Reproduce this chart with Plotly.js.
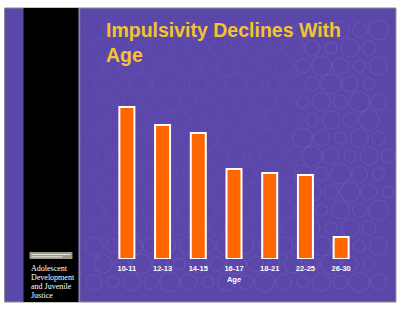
<!DOCTYPE html>
<html>
<head>
<meta charset="utf-8">
<script src="https://cdn.plot.ly/plotly-3.0.1.min.js"></script>
<style>html,body{margin:0;padding:0;background:#fff;}#chart{width:410px;height:318px;}</style>
</head>
<body>
<div id="chart"></div>
<script>
// Data
const ageGroups = ["10-11", "12-13", "14-15", "16-17", "18-21", "22-25", "26-30"];
const impulsivity = [152, 134, 126, 90, 86, 84, 22];
const titleText = "Impulsivity Declines With<br>Age";
const xTitle = "Age";
const sidebarLines = ["Adolescent", "Development", "and Juvenile", "Justice"];

const W = 410, H = 318;
const M = {l: 108.6, r: 51, t: 100, b: 59};
const pw = W - M.l - M.r, ph = H - M.t - M.b;
const px = x => (x - M.l) / pw;
const py = y => (H - M.b - y) / ph;

const shapes = [];
// slide background
shapes.push({type: 'rect', xref: 'paper', yref: 'paper', x0: px(4), x1: px(396), y0: py(8), y1: py(302),
  fillcolor: '#5b47aa', line: {color: '#8a8a8a', width: 1}, layer: 'below'});
// decorative circles
for (let r = 0; r < 16; r++) {
  for (let c = 0; c < 22; c++) {
    const cx = 8 + c * 19 + (r % 2) * 9.5;
    const cy = 12 + r * 18;
    const rad = 6 + ((r * 7 + c * 3) % 5);
    if (cx - rad < 5 || cx + rad > 395 || cy - rad < 9 || cy + rad > 301) continue;
    if (cx + rad > 22 && cx - rad < 80) continue;
    const op = (cx > 300 || cy > 240 || cx < 22) ? 0.07 : 0.03;
    shapes.push({type: 'circle', xref: 'paper', yref: 'paper', x0: px(cx - rad), x1: px(cx + rad),
      y0: py(cy + rad), y1: py(cy - rad), line: {color: 'rgba(255,255,255,' + op + ')', width: 1.2}, layer: 'below'});
  }
}
// sidebar
shapes.push({type: 'rect', xref: 'paper', yref: 'paper', x0: px(23), x1: px(78), y0: py(8), y1: py(302),
  fillcolor: '#000', line: {width: 0}, layer: 'below'});
shapes.push({type: 'line', xref: 'paper', yref: 'paper', x0: px(79), x1: px(79), y0: py(8), y1: py(302),
  line: {color: '#8c8c8c', width: 1.5}, layer: 'below'});
// small gray label box
shapes.push({type: 'rect', xref: 'paper', yref: 'paper', x0: px(29), x1: px(72), y0: py(252), y1: py(259),
  fillcolor: '#9d978d', line: {width: 0}, layer: 'below'});
shapes.push({type: 'line', xref: 'paper', yref: 'paper', x0: px(31), x1: px(70), y0: py(254.5), y1: py(254.5),
  line: {color: '#e8e4dc', width: 1}, layer: 'below'});
shapes.push({type: 'line', xref: 'paper', yref: 'paper', x0: px(31), x1: px(62), y0: py(256.8), y1: py(256.8),
  line: {color: '#e8e4dc', width: 1}, layer: 'below'});

const annotations = sidebarLines.map((t, i) => ({
  text: t, xref: 'paper', yref: 'paper', x: px(28), y: py(268 + i * 9),
  xanchor: 'left', yanchor: 'middle', showarrow: false,
  font: {family: 'Liberation Serif, DejaVu Serif, serif', size: 8, color: '#ffffff'}
}));

const trace = {
  type: 'bar', x: ageGroups, y: impulsivity, width: 0.42,
  marker: {color: '#ff6600', line: {color: '#ffffff', width: 2}},
  hoverinfo: 'none'
};

const layout = {
  width: W, height: H,
  margin: M,
  paper_bgcolor: '#ffffff', plot_bgcolor: 'rgba(0,0,0,0)',
  showlegend: false,
  title: {text: titleText, xref: 'container', yref: 'container', x: 106 / W, xanchor: 'left',
    y: 1 - 37 / H, yanchor: 'middle',
    font: {family: 'Liberation Sans, Arial, sans-serif', size: 19.5, weight: 'bold', color: '#f4c430'}},
  xaxis: {type: 'category', showgrid: false, zeroline: false, showline: false, ticks: '', fixedrange: true,
    tickfont: {family: 'Liberation Sans, Arial, sans-serif', size: 7.5, weight: 'bold', color: '#ffffff'},
    ticklabelstandoff: 3,
    title: {text: xTitle, standoff: 5, font: {family: 'Liberation Sans, Arial, sans-serif', size: 7.5, weight: 'bold', color: '#ffffff'}}},
  yaxis: {range: [0, 159], visible: false, fixedrange: true},
  shapes: shapes,
  annotations: annotations
};

Plotly.newPlot('chart', [trace], layout, {displayModeBar: false, staticPlot: true});
</script>
</body>
</html>
